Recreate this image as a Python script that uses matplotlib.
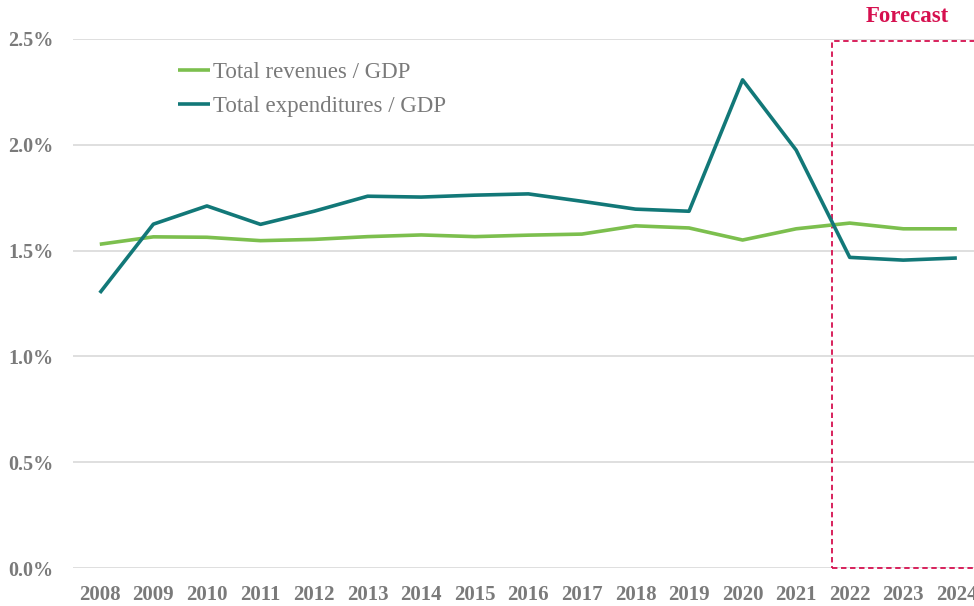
import matplotlib.pyplot as plt
from matplotlib.patches import Rectangle
from matplotlib.ticker import FuncFormatter

years = list(range(2008, 2025))
revenues = [1.53, 1.565, 1.563, 1.547, 1.553, 1.566, 1.574, 1.566, 1.573, 1.578,
            1.617, 1.607, 1.550, 1.603, 1.630, 1.603, 1.603]
expenditures = [1.30, 1.625, 1.711, 1.624, 1.686, 1.757, 1.753, 1.762, 1.768, 1.733,
                1.696, 1.686, 2.307, 1.975, 1.468, 1.455, 1.465]
forecast_start = 2021.67

green = '#7cbf4e'
teal = '#127878'
red = '#d6104f'
grey = '#7a7a7a'

fig = plt.figure(figsize=(9.74, 6.06), dpi=100)
ax = fig.add_axes([73 / 974, 1 - 568 / 606, 1 - 73 / 974, (568 - 39) / 606])

ax.plot(years, revenues, color=green, lw=2.6, label='Total revenues / GDP', solid_capstyle='butt')
ax.plot(years, expenditures, color=teal, lw=2.6, label='Total expenditures / GDP', solid_capstyle='butt')

ax.set_xlim(2007.5, 2024.32)
ax.set_ylim(0, 2.5)
ax.set_yticks([0, 0.5, 1.0, 1.5, 2.0, 2.5])
ax.yaxis.set_major_formatter(FuncFormatter(lambda v, p: f'{v:.1f}%'))
ax.set_xticks(years)

ax.grid(axis='y', color='#d9d9d9', lw=1.2)
ax.set_axisbelow(True)
for s in ax.spines.values():
    s.set_visible(False)
ax.tick_params(length=0, colors=grey)
ax.tick_params(axis='y', pad=14, labelsize=14.5)
ax.tick_params(axis='x', pad=12, labelsize=15)
for lab in ax.get_xticklabels() + ax.get_yticklabels():
    lab.set_fontfamily('Liberation Serif')
    lab.set_fontweight('bold')

# forecast box
box = Rectangle((forecast_start, 0), 2025.5 - forecast_start, 2.49, fill=False,
                edgecolor=red, lw=1.3, ls=(0, (3, 2)), clip_on=False)
ax.add_patch(box)
ax.text(2023.08, 2.604, 'Forecast', color=red, fontsize=16.5, fontweight='bold',
        fontfamily='Liberation Serif', ha='center', va='center')

leg = ax.legend(loc='upper left', bbox_to_anchor=(0.094, 0.995), frameon=False,
                handlelength=1.4, handletextpad=0.1, labelspacing=0.55,
                prop={'family': 'Liberation Serif', 'size': 16.5})
for t in leg.get_texts():
    t.set_color(grey)

fig.savefig('out.png', dpi=100)
